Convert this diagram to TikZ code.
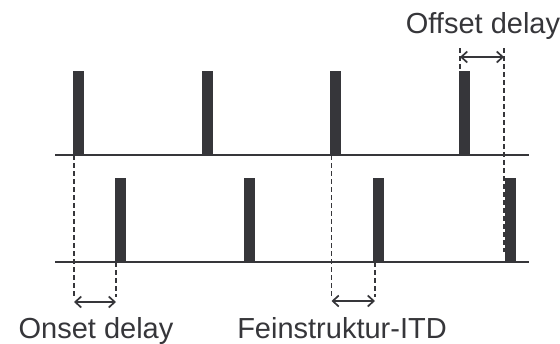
\documentclass[tikz,border=0pt]{standalone}
\usepackage{fontspec}
\setmainfont{Liberation Sans}
\usetikzlibrary{arrows.meta, positioning}
\definecolor{ink}{HTML}{36363A}

\begin{document}
\begin{tikzpicture}[
    x=1pt, y=-1pt,
    pulse/.style={rectangle, fill=ink, inner sep=0pt, minimum width=11pt, minimum height=84pt, anchor=south west},
    axisline/.style={draw=ink, line width=2.2pt},
    guide/.style={draw=ink, line width=1.7pt, dash pattern=on 5pt off 3pt},
    gap/.style={{Straight Barb[length=6pt,width=11pt]}-{Straight Barb[length=6pt,width=11pt]}, draw=ink, line width=1.7pt},
    note/.style={font=\fontsize{29}{34}\selectfont, text=ink, inner sep=0pt, anchor=base}
]
\useasboundingbox (0,0) rectangle (560,343);

% Zeitachsen
\coordinate (topL) at (55,155);
\coordinate (topR) at (529,155);
\coordinate (botL) at (55,262);
\coordinate (botR) at (529,262);
\draw[axisline] (topL) -- (topR);
\draw[axisline] (botL) -- (botR);

% Pulse oben
\node[pulse] (t1) at (73,155) {};
\node[pulse] (t2) at (202,155) {};
\node[pulse] (t3) at (330,155) {};
\node[pulse] (t4) at (459,155) {};

% Pulse unten
\node[pulse] (b1) at (115,262) {};
\node[pulse] (b2) at (244,262) {};
\node[pulse] (b3) at (373,262) {};
\node[pulse] (b4) at (505,262) {};

% Hilfslinien
\coordinate (onA) at (74,297);
\coordinate (onB) at (116,297);
\coordinate (fiA) at (331.5,297);
\coordinate (fiB) at (375,297);
\coordinate (ofA) at (460,48);
\coordinate (ofB) at (504,48);
\coordinate (ofC) at (504,252);
\draw[guide] ([xshift=1pt]t1.south west) -- (onA);
\draw[guide] ([xshift=1pt]b1.south west) -- (onB);
\draw[guide] ([xshift=1.5pt]t3.south west) -- (fiA);
\draw[guide] ([xshift=2pt]b3.south west) -- (fiB);
\draw[guide] (ofA) -- ([xshift=1pt]t4.north west);
\draw[guide] (ofB) -- (ofC);

% Bemaßung
\draw[gap] ([yshift=-5pt]onA) -- ([yshift=-5pt]onB);
\draw[gap] ([yshift=-4pt]fiA) -- ([yshift=-4pt]fiB);
\draw[gap] ([yshift=-9pt]ofA) -- ([yshift=-9pt]ofB);

% Beschriftung
\node[note] (onset) at (96,338) {Onset delay};
\node[note] (fine) at (342,338) {Feinstruktur-ITD};
\node[note] (offset) at (483,33) {Offset delay};

\end{tikzpicture}
\end{document}
